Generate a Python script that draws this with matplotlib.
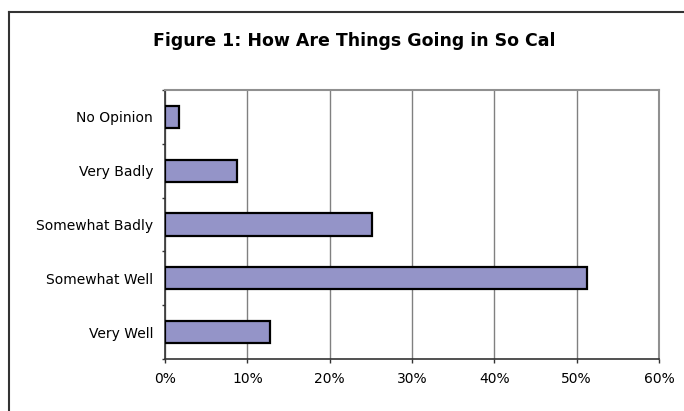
import matplotlib
matplotlib.use('Agg')
import matplotlib.pyplot as plt
from matplotlib.lines import Line2D
from matplotlib.ticker import FuncFormatter

categories = ['Very Well', 'Somewhat Well', 'Somewhat Badly', 'Very Badly', 'No Opinion']
values = [12.7, 51.2, 25.1, 8.8, 1.7]
x_ticks = [0, 10, 20, 30, 40, 50, 60]

plt.rcParams['font.family'] = ['DejaVu Sans']

fig = plt.figure(figsize=(6.84, 4.11), dpi=100)
ax = fig.add_axes([165 / 684, 1 - 359 / 411, 494 / 684, 269 / 411])

ax.barh(range(len(categories)), values, height=0.41, color='#9494c8',
        edgecolor='black', linewidth=1.6, zorder=3)

ax.set_xlim(0, 60)
ax.set_ylim(-0.5, len(categories) - 0.5)
ax.set_xticks(x_ticks)
ax.xaxis.set_major_formatter(FuncFormatter(lambda v, p: f'{v:.0f}%'))
ax.set_yticks(range(len(categories)))
ax.set_yticklabels(categories)
ax.set_yticks([i - 0.5 for i in range(len(categories) + 1)], minor=True)

ax.grid(axis='x', color='#808080', linewidth=1, zorder=0)
ax.tick_params(axis='y', which='major', length=0, pad=8.5, labelsize=10)
ax.tick_params(axis='y', which='minor', length=2.5, width=1, color='#333333')
ax.tick_params(axis='x', length=3, width=1, color='#333333', pad=6, labelsize=10)

for side in ['top', 'right']:
    ax.spines[side].set_color('#909090')
    ax.spines[side].set_linewidth(1.5)
for side in ['left', 'bottom']:
    ax.spines[side].set_color('#333333')
    ax.spines[side].set_linewidth(1.2)

fig.text(354 / 684, 1 - 41 / 411, 'Figure 1: How Are Things Going in So Cal',
         ha='center', va='center', fontsize=12.5, fontweight='bold')

# outer chart border (only top and left edges visible)
fig.add_artist(Line2D([9 / 684, 1], [1 - 12 / 411, 1 - 12 / 411], color='#333333', linewidth=1.5))
fig.add_artist(Line2D([9 / 684, 9 / 684], [0, 1 - 12 / 411], color='#333333', linewidth=1.5))

fig.savefig('out.png', dpi=100)
